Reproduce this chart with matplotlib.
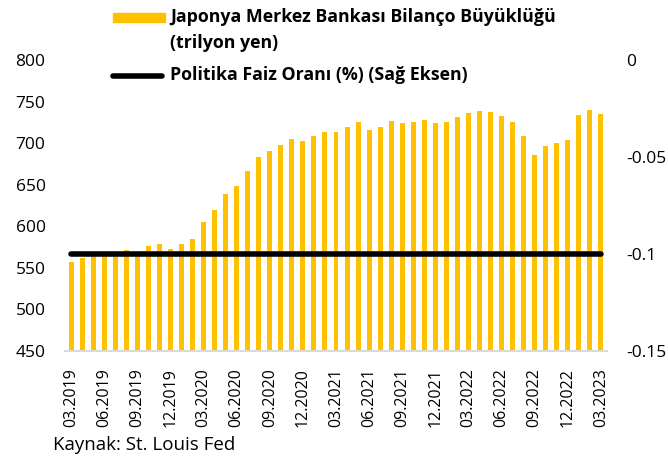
import matplotlib.pyplot as plt
import numpy as np
from matplotlib.lines import Line2D
from matplotlib.patches import Rectangle

plt.rcParams["font.family"] = ["Open Sans", "DejaVu Sans"]

months = [f"{m:02d}.{y}" for y in range(2019, 2024) for m in range(1, 13)][2:51]
balance = [557, 562, 565, 565, 566, 572, 566, 576, 579, 573,
           579, 585, 605, 619, 639, 649, 666, 683, 690, 698,
           705, 703, 709, 713, 714, 720, 725, 716, 719, 727,
           724, 725, 728, 724, 725, 731, 736, 739, 737, 733,
           726, 709, 686, 696, 700, 704, 734, 740, 735]
rate = [-0.1] * 49

gold = "#FFC000"
x = np.arange(len(months))
W, H = 668, 463

fig = plt.figure(figsize=(6.68, 4.63), dpi=100)
ax = fig.add_axes([65 / W, 1 - 351 / H, 542 / W, 291 / H])
ax.bar(x, balance, width=0.45, color=gold, zorder=2)
ax.set_ylim(450, 800)
ax.set_yticks(np.arange(450, 801, 50))
ax.set_xlim(-0.55, 48.55)
ax.set_xticks(x[::3])
ax.set_xticklabels(months[::3], rotation=90)
ax.tick_params(axis="y", length=0, labelsize=12.5, pad=14)
ax.tick_params(axis="x", length=0, labelsize=11.5, pad=12)
for s in ["top", "right", "left"]:
    ax.spines[s].set_visible(False)
ax.spines["bottom"].set_color("#d9d9d9")
ax.spines["bottom"].set_linewidth(1.5)

ax2 = ax.twinx()
ax2.plot(x, rate, color="black", linewidth=4, solid_capstyle="round", zorder=3)
ax2.set_ylim(-0.15, 0)
ax2.set_yticks([-0.15, -0.1, -0.05, 0])
ax2.set_yticklabels(["-0.15", "-0.1", "-0.05", "0"])
ax2.tick_params(axis="y", length=0, labelsize=12.5, pad=14)
for s in ax2.spines.values():
    s.set_visible(False)

# legend, laid out by hand like the Excel original
fig.patches.append(Rectangle((113 / W, 1 - 22 / H), 52 / W, 9 / H, color=gold,
                             transform=fig.transFigure, figure=fig))
fig.lines.append(Line2D([113 / W, 162 / W], [1 - 76 / H] * 2, color="black", linewidth=4,
                        solid_capstyle="round", transform=fig.transFigure, figure=fig))
leg_font = dict(fontsize=12.8, fontweight="bold", va="center")
fig.text(170 / W, 1 - 17 / H, "Japonya Merkez Bankası Bilanço Büyüklüğü", **leg_font)
fig.text(170 / W, 1 - 43 / H, "(trilyon yen)", **leg_font)
fig.text(170 / W, 1 - 75 / H, "Politika Faiz Oranı (%) (Sağ Eksen)", **leg_font)

fig.text(53 / W, 1 - 450 / H, "Kaynak: St. Louis Fed", fontsize=13.5, va="baseline")

fig.savefig("out.png")
